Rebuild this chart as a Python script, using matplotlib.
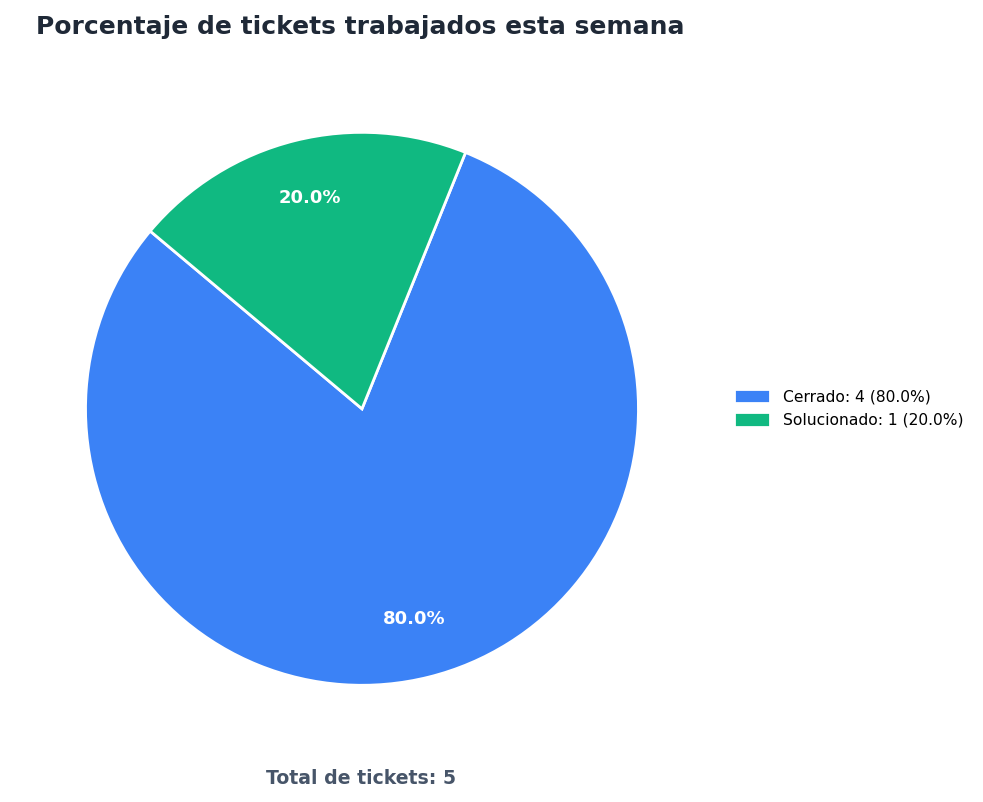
import matplotlib
matplotlib.use("Agg")
import matplotlib.pyplot as plt

# datos de tickets
estados = ["Cerrado", "Solucionado"]
cantidades = [4, 1]
colores = ["#3b82f6", "#10b981"]

total = sum(cantidades)
etiquetas = ["%s: %d (%.1f%%)" % (e, c, 100.0 * c / total) for e, c in zip(estados, cantidades)]

fig = plt.figure(figsize=(9.83, 8.02), dpi=100)
ax = fig.add_axes([0.087, 0.1455, 0.5625, 0.6895])

wedges, texts, autotexts = ax.pie(
    cantidades,
    colors=colores,
    startangle=140,
    autopct="%1.1f%%",
    pctdistance=0.785,
    wedgeprops=dict(edgecolor="white", linewidth=2),
    textprops=dict(color="white", fontsize=13, fontweight="bold"),
)
ax.set_xlim(-1, 1)
ax.set_ylim(-1, 1)
ax.set_aspect("equal")
ax.axis("off")

fig.legend(wedges, etiquetas, loc="center left", bbox_to_anchor=(0.732, 0.491),
           frameon=False, fontsize=11.2, handlelength=2.35, handleheight=1.05)

fig.text(0.037, 0.966, "Porcentaje de tickets trabajados esta semana",
         fontsize=18, fontweight="bold", color="#1f2937", ha="left", va="center")
fig.text(0.367, 0.029, "Total de tickets: %d" % total,
         fontsize=13.6, fontweight="bold", color="#475569", ha="center", va="center")

fig.savefig("out.png", dpi=100, facecolor="white")
